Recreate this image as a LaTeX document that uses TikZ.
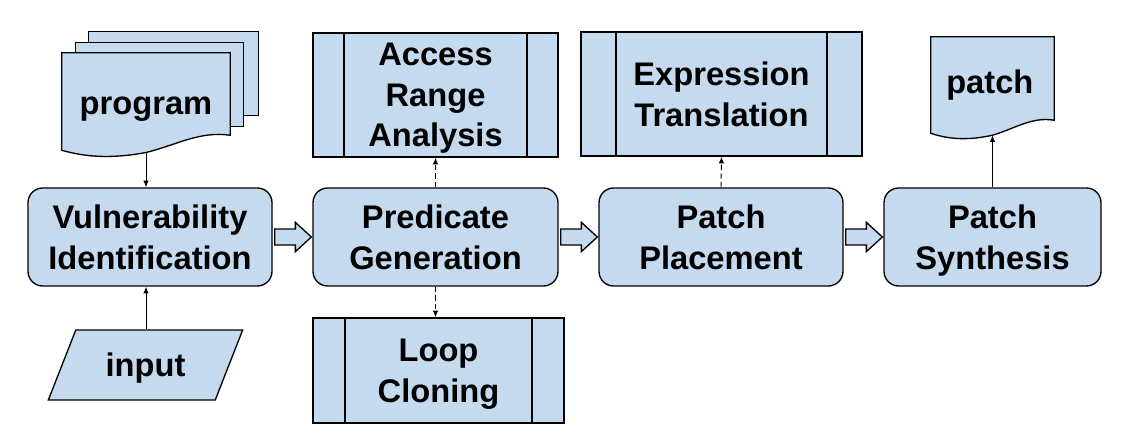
\documentclass[tikz,border=0pt]{standalone}
\usepackage{fontspec}
\setmainfont{Liberation Sans}
\usetikzlibrary{calc,shapes.geometric,arrows.meta,backgrounds}
\definecolor{boxblue}{RGB}{198,218,239}

% document sheet with a wavy foot, drawn round a node
\newcommand{\DocOutline}[2]{%
  \draw[sheet] (#1.south west) -- (#1.north west) -- (#1.north east)
    -- ($(#1.south east)+(0,#2)$)
    .. controls ($(#1.south west)!0.82!(#1.south east)+(0,1.3*#2)$)
       and ($(#1.south west)!0.68!(#1.south east)+(0,0.35*#2)$)
    .. ($(#1.south)+(0,-0.15*#2)$)
    .. controls ($(#1.south west)!0.33!(#1.south east)+(0,-0.5*#2)$)
       and ($(#1.south west)!0.17!(#1.south east)+(0,-0.55*#2)$)
    .. (#1.south west) -- cycle;}

% fat block arrow from one stage to the next
\newcommand{\BlockArrow}[2]{%
  \draw[sheet] ($(#1.east)+(1.5pt,6pt)$) -- ($(#2.west)+(-12.75pt,6pt)$)
    -- ($(#2.west)+(-12.75pt,11pt)$) -- ($(#2.west)+(-0.75pt,0pt)$)
    -- ($(#2.west)+(-12.75pt,-11pt)$) -- ($(#2.west)+(-12.75pt,-6pt)$)
    -- ($(#1.east)+(1.5pt,-6pt)$) -- cycle;}

\tikzset{
  sheet/.style={draw, fill=boxblue, line width=1pt},
  box/.style={sheet, font=\bfseries\fontsize{24.5}{30.5}\selectfont, align=center, inner sep=2pt, text depth=0pt},
  stage/.style={box, rounded corners=11pt, minimum height=73.5pt},
  subproc/.style={box, path picture={
      \draw[line width=1pt] ([xshift=#1]path picture bounding box.north west) -- ([xshift=#1]path picture bounding box.south west)
        ([xshift=-#1]path picture bounding box.north east) -- ([xshift=-#1]path picture bounding box.south east);}},
  subproc/.default=24pt,
  docnode/.style={font=\bfseries\fontsize{24.5}{30.5}\selectfont, inner sep=0pt},
  io/.style={box, trapezium, trapezium left angle=60, trapezium right angle=120,
      trapezium stretches=true, minimum width=146.25pt, minimum height=52.5pt},
  flow/.style={-{Latex[length=5pt,width=4pt]}, line width=0.7pt},
  dashflow/.style={flow, dash pattern=on 4pt off 2.5pt}
}

\begin{document}
\begin{tikzpicture}[x=0.75pt, y=-0.75pt]
  \useasboundingbox (0,0) rectangle (1122,446);

  % main stages
  \node[stage, minimum width=183pt] (vuln) at (150,237) {Vulnerability\\Identification};
  \node[stage, minimum width=183.75pt] (pred) at (435.5,237) {Predicate\\Generation};
  \node[stage, minimum width=183pt] (place) at (721,237) {Patch\\Placement};
  \node[stage, minimum width=162.75pt] (synth) at (992.5,237) {Patch\\Synthesis};

  % helper steps
  \node[subproc=23.25pt, minimum width=183.75pt, minimum height=93pt] (access) at (435.5,95) {Access\\Range\\Analysis};
  \node[subproc=24pt, minimum width=188.25pt, minimum height=78.75pt] (loop) at (438.5,370.5) {Loop\\Cloning};
  \node[subproc=26.25pt, minimum width=210.75pt, minimum height=93pt] (expr) at (721.5,94) {Expression\\Translation};

  % inputs and output
  \node[docnode, minimum width=126pt, minimum height=72.75pt, text height=19pt, text depth=0pt] (prog) at (146,101.5) {program};
  \node[docnode, minimum width=92.25pt, minimum height=72pt] (patch) at (992.5,85) {\raisebox{2pt}{patch}\hspace*{4pt}};
  \node[io] (input) at (145.5,365) {input};

  \begin{scope}[on background layer]
    \draw[sheet] ($(prog.north west)+(20.25pt,15.75pt)$) rectangle ($(prog.south east)+(21pt,26.25pt)$);
    \draw[sheet] ($(prog.north west)+(10.5pt,7.5pt)$) rectangle ($(prog.south east)+(9.75pt,18pt)$);
    \DocOutline{prog}{11.25pt}
    \DocOutline{patch}{9.75pt}
  \end{scope}

  \coordinate (progfoot) at ($(prog.south)+(0,-1.7pt)$);
  \coordinate (patchfoot) at ($(patch.south)+(0,-1.5pt)$);

  % block arrows
  \foreach \a/\b in {vuln/pred, pred/place, place/synth}
    \BlockArrow{\a}{\b};

  % thin arrows
  \draw[flow] (progfoot) -- (progfoot |- vuln.north);
  \draw[flow] (input.north -| progfoot) -- (progfoot |- vuln.south);
  \draw[flow] (synth.north) -- (patchfoot);
  \draw[dashflow] (pred.north) -- (access.south);
  \draw[dashflow] (pred.south) -- (pred.south |- loop.north);
  \draw[dashflow] (place.north) -- (expr.south);
\end{tikzpicture}
\end{document}
